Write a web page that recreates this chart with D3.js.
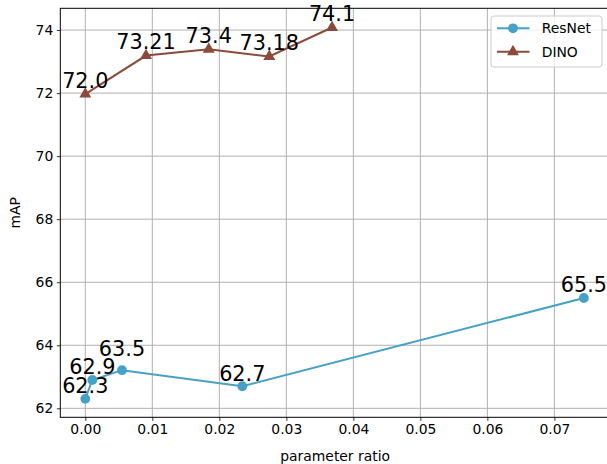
<!DOCTYPE html>
<html>
<head>
<meta charset="utf-8">
<script src="https://cdn.jsdelivr.net/npm/d3@7"></script>
<style>
  body { margin: 0; background: #fff; }
  text { font-family: "DejaVu Sans", sans-serif; }
</style>
</head>
<body>
<div id="chart"></div>
<script>
// data
const resnetX = [0.0, 0.00105, 0.00548, 0.02343, 0.0744];
const resnetY = [62.3, 62.9, 63.21, 62.7, 65.5];
const resnetLabels = ["62.3", "62.9", "63.5", "62.7", "65.5"];

const dinoX = [0.0, 0.00906, 0.01842, 0.02746, 0.03682];
const dinoY = [71.97, 73.19, 73.39, 73.16, 74.08];
const dinoLabels = ["72.0", "73.21", "73.4", "73.18", "74.1"];

const xTicks = [0, 0.01, 0.02, 0.03, 0.04, 0.05, 0.06, 0.07];
const yTicks = [62, 64, 66, 68, 70, 72, 74];

const series = [
  { name: "ResNet", xs: resnetX, ys: resnetY, labels: resnetLabels, color: "#45a1c5", marker: d3.symbolCircle },
  { name: "DINO", xs: dinoX, ys: dinoY, labels: dinoLabels, color: "#8b4b3b", marker: d3.symbolTriangle }
];

var width = 607, height = 464;
var plotL = 60.3, plotR = 610, plotT = 8.3, plotB = 417.3;

var svg = d3.select("#chart").append("svg")
  .attr("width", width)
  .attr("height", height);

var x = d3.scaleLinear().domain([-0.00373, 0.0783]).range([plotL, plotR]);
var y = d3.scaleLinear().domain([61.715, 74.69]).range([plotB, plotT]);

// grid
var grid = svg.append("g").attr("stroke", "#b0b0b0").attr("stroke-width", 1);
grid.selectAll(".gx").data(xTicks).enter().append("line")
  .attr("x1", d => x(d)).attr("x2", d => x(d))
  .attr("y1", plotT).attr("y2", plotB);
grid.selectAll(".gy").data(yTicks).enter().append("line")
  .attr("x1", plotL).attr("x2", plotR)
  .attr("y1", d => y(d)).attr("y2", d => y(d));

// axes
var xAxis = svg.append("g")
  .attr("transform", "translate(0," + plotB + ")")
  .call(d3.axisBottom(x).tickValues(xTicks).tickFormat(d3.format(".2f")).tickSizeOuter(0).tickSize(3.5).tickPadding(3.5));
var yAxis = svg.append("g")
  .attr("transform", "translate(" + plotL + ",0)")
  .call(d3.axisLeft(y).tickValues(yTicks).tickFormat(d3.format("d")).tickSizeOuter(0).tickSize(3.5).tickPadding(3.5));
[xAxis, yAxis].forEach(a => {
  a.selectAll("text").attr("font-size", "13.9px").attr("fill", "#000")
    .style("font-family", "DejaVu Sans");
  a.selectAll("line").attr("stroke", "#000").attr("stroke-width", 0.8);
  a.select(".domain").remove();
});

// spines
svg.append("rect")
  .attr("x", plotL).attr("y", plotT)
  .attr("width", plotR - plotL).attr("height", plotB - plotT)
  .attr("fill", "none").attr("stroke", "#000").attr("stroke-width", 1);

// series
series.forEach(s => {
  var pts = s.xs.map((v, i) => [v, s.ys[i]]);
  var line = d3.line().x(d => x(d[0])).y(d => y(d[1]));
  svg.append("path")
    .datum(pts)
    .attr("d", line)
    .attr("fill", "none")
    .attr("stroke", s.color)
    .attr("stroke-width", 2);
  svg.selectAll(null).data(pts).enter().append("path")
    .attr("d", d3.symbol().type(s.marker).size(s.marker === d3.symbolCircle ? 76 : 62))
    .attr("transform", d => "translate(" + x(d[0]) + "," + y(d[1]) + ")")
    .attr("fill", s.color);
  // labels sit at the value they state
  svg.selectAll(null).data(pts).enter().append("text")
    .attr("x", d => x(d[0]))
    .attr("y", (d, i) => y(+s.labels[i]) - 5.5)
    .attr("text-anchor", "middle")
    .attr("font-size", "20.8px")
    .attr("fill", "#000")
    .text((d, i) => s.labels[i]);
});

// axis labels
svg.append("text")
  .attr("x", (plotL + plotR) / 2).attr("y", 461)
  .attr("text-anchor", "middle").attr("font-size", "13.9px")
  .text("parameter ratio");
svg.append("text")
  .attr("transform", "translate(20," + (plotT + plotB) / 2 + ") rotate(-90)")
  .attr("text-anchor", "middle").attr("font-size", "13.9px")
  .text("mAP");

// legend
var lg = svg.append("g");
lg.append("rect")
  .attr("x", 491).attr("y", 16).attr("width", 111).attr("height", 51)
  .attr("rx", 3)
  .attr("fill", "#fff").attr("fill-opacity", 0.8)
  .attr("stroke", "#cccccc").attr("stroke-width", 1);
series.forEach((s, i) => {
  var ly = 28.3 + i * 23.4;
  lg.append("line")
    .attr("x1", 497).attr("x2", 529.5)
    .attr("y1", ly).attr("y2", ly)
    .attr("stroke", s.color).attr("stroke-width", 2);
  lg.append("path")
    .attr("d", d3.symbol().type(s.marker).size(s.marker === d3.symbolCircle ? 76 : 62))
    .attr("transform", "translate(513," + ly + ")")
    .attr("fill", s.color);
  lg.append("text")
    .attr("x", 541.7).attr("y", ly + 5)
    .attr("font-size", "13.9px")
    .text(s.name);
});
</script>
</body>
</html>
